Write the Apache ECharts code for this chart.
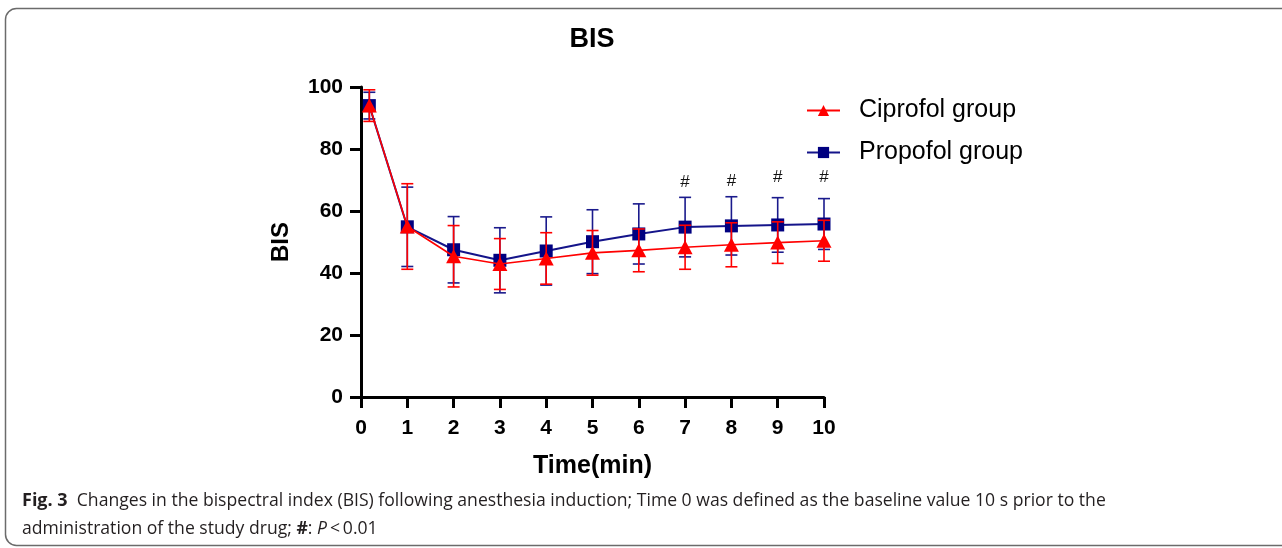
<!DOCTYPE html>
<html>
<head>
<meta charset="utf-8">
<script src="https://cdn.jsdelivr.net/npm/echarts@6/dist/echarts.min.js"></script>
<style>
  html, body { margin: 0; padding: 0; background: #fff; }
  #main { width: 1282px; height: 548px; }
</style>
</head>
<body>
<div id="main"></div>
<script>
// BIS over time, mean and SD
var times = [0.18, 1, 2, 3, 4, 5, 6, 7, 8, 9, 10];
var ciproMean = [94, 55, 45.4, 42.9, 44.7, 46.5, 47.3, 48.3, 49.1, 49.8, 50.4];
var ciproSD   = [5.1, 13.8, 9.9, 8.2, 8.3, 7.2, 6.9, 7.1, 7.1, 6.7, 6.6];
var propoMean = [94, 54.9, 47.5, 44.1, 47.1, 50.1, 52.6, 54.8, 55.2, 55.5, 55.8];
var propoSD   = [4.3, 12.8, 10.7, 10.5, 11, 10.3, 9.7, 9.6, 9.4, 8.8, 8.2];
var sigTimes = [7, 8, 9, 10];
var sigY = [69.3, 69.5, 70.8, 70.8];
var xTicks = [0, 10, 1];
var yTicks = [0, 100, 20];

var RED = '#ff0000';
var BLUE = '#000080';
var chart = echarts.init(document.getElementById('main'));

function pts(mean) {
  return times.map(function (t, i) { return [t, mean[i]]; });
}
function bars(mean, sd) {
  return times.map(function (t, i) { return [t, mean[i] - sd[i], mean[i] + sd[i]]; });
}
function errRender(color) {
  return function (params, api) {
    var lo = api.coord([api.value(0), api.value(1)]);
    var hi = api.coord([api.value(0), api.value(2)]);
    var w = 6;
    var st = { stroke: color, lineWidth: 1.6 };
    return {
      type: 'group',
      children: [
        { type: 'line', shape: { x1: lo[0], y1: lo[1], x2: hi[0], y2: hi[1] }, style: st },
        { type: 'line', shape: { x1: lo[0] - w, y1: lo[1], x2: lo[0] + w, y2: lo[1] }, style: st },
        { type: 'line', shape: { x1: hi[0] - w, y1: hi[1], x2: hi[0] + w, y2: hi[1] }, style: st }
      ]
    };
  };
}

var axisFont = { color: '#000', fontFamily: 'Liberation Sans, Arial', fontWeight: 'bold', fontSize: 21 };

var option = {
  animation: false,
  backgroundColor: '#fff',
  title: {
    text: 'BIS',
    left: 587,
    top: 21,
    textAlign: 'center',
    textStyle: { color: '#000', fontFamily: 'Liberation Sans, Arial', fontWeight: 'bold', fontSize: 27 }
  },
  legend: {
    orient: 'vertical',
    left: 801,
    top: 93,
    itemGap: 17,
    itemWidth: 33,
    itemHeight: 14,
    data: ['Ciprofol group', 'Propofol group'],
    textStyle: { color: '#000', fontFamily: 'Liberation Sans, Arial', fontSize: 25, padding: [0, 0, 0, 14] }
  },
  grid: { left: 361, right: 458, top: 87, bottom: 151 },
  xAxis: {
    type: 'value',
    min: xTicks[0], max: xTicks[1], interval: xTicks[2],
    name: 'Time(min)',
    nameLocation: 'middle',
    nameGap: 57,
    nameTextStyle: { color: '#000', fontFamily: 'Liberation Sans, Arial', fontWeight: 'bold', fontSize: 25 },
    axisLine: { lineStyle: { color: '#000', width: 3 } },
    axisTick: { length: 11, lineStyle: { color: '#000', width: 3 } },
    axisLabel: Object.assign({ margin: 21 }, axisFont),
    splitLine: { show: false }
  },
  yAxis: {
    type: 'value',
    min: yTicks[0], max: yTicks[1], interval: yTicks[2],
    name: 'BIS',
    nameLocation: 'middle',
    nameGap: 68,
    nameTextStyle: { color: '#000', fontFamily: 'Liberation Sans, Arial', fontWeight: 'bold', fontSize: 24 },
    axisLine: { show: true, lineStyle: { color: '#000', width: 3 } },
    axisTick: { show: true, length: 11, lineStyle: { color: '#000', width: 3 } },
    axisLabel: Object.assign({ margin: 18 }, axisFont),
    splitLine: { show: false }
  },
  series: [
    {
      type: 'custom', name: 'propoErr', z: 1,
      renderItem: errRender('#1a1a8c'),
      data: bars(propoMean, propoSD)
    },
    {
      type: 'line', name: 'Propofol group', z: 2,
      data: pts(propoMean),
      symbol: 'rect', symbolSize: 13,
      lineStyle: { color: '#14148a', width: 2 },
      itemStyle: { color: BLUE }
    },
    {
      type: 'custom', name: 'ciproErr', z: 3,
      renderItem: errRender(RED),
      data: bars(ciproMean, ciproSD)
    },
    {
      type: 'line', name: 'Ciprofol group', z: 4,
      data: pts(ciproMean),
      symbol: 'triangle', symbolSize: [15, 14],
      lineStyle: { color: RED, width: 1.6 },
      itemStyle: { color: RED }
    },
    {
      type: 'custom', name: 'sig', z: 5,
      renderItem: function (params, api) {
        var p = api.coord([api.value(0), api.value(1)]);
        return {
          type: 'text',
          style: { x: p[0], y: p[1], text: '#', align: 'center', verticalAlign: 'middle',
                   fill: '#111', font: '17px Liberation Sans, Arial' }
        };
      },
      data: sigTimes.map(function (t, i) { return [t, sigY[i]]; })
    }
  ],
  graphic: [
    {
      type: 'rect', silent: true,
      shape: { x: 5.5, y: 8.5, width: 1320, height: 537, r: 11 },
      style: { fill: 'none', stroke: '#6b6b6b', lineWidth: 1.5 }
    },
    {
      type: 'text', left: 22, top: 492,
      style: {
        text: '{b|Fig. 3}  Changes in the bispectral index (BIS) following anesthesia induction; Time 0 was defined as the baseline value 10 s prior to the',
        fill: '#231f20', font: '17.6px Open Sans',
        rich: { b: { fontWeight: 'bold', fontSize: 18, fontFamily: 'Open Sans', fill: '#231f20' } }
      }
    },
    {
      type: 'text', left: 22, top: 520,
      style: {
        text: 'administration of the study drug; {b|#}: {i|P}\u2009<\u20090.01',
        fill: '#231f20', font: '17.6px Open Sans',
        rich: {
          b: { fontWeight: 'bold', fontSize: 17.6, fontFamily: 'Open Sans', fill: '#231f20' },
          i: { fontStyle: 'italic', fontSize: 17.6, fontFamily: 'Open Sans', fill: '#231f20' }
        }
      }
    }
  ]
};
chart.setOption(option);
</script>
</body>
</html>
